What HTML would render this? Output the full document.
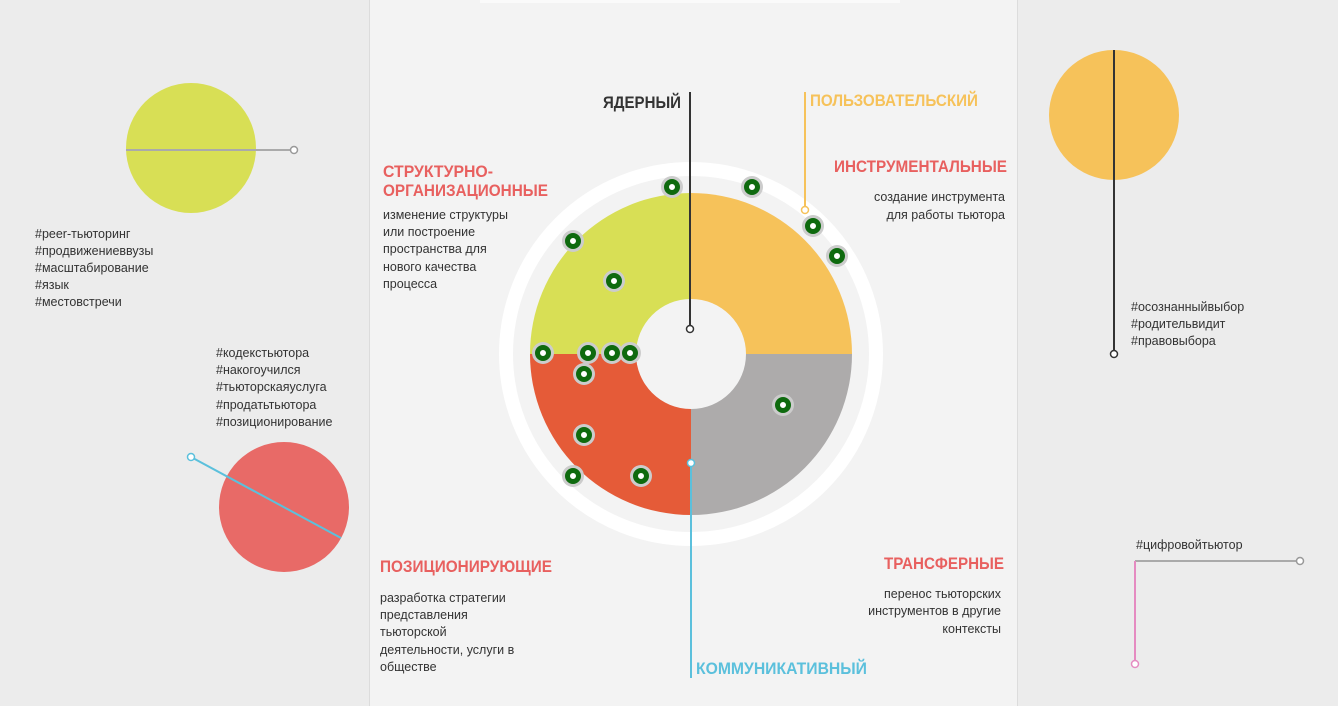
<!DOCTYPE html>
<html><head><meta charset="utf-8"><style>
html,body{margin:0;padding:0;width:1338px;height:706px;overflow:hidden;background:#ececec}
svg{display:block}
text{font-family:"Liberation Sans Narrow","Liberation Sans",sans-serif}
.h{font-weight:bold;font-size:17px}
.t{font-size:12.5px;fill:#333}
</style></head><body>
<svg width="1338" height="706" viewBox="0 0 1338 706">
<rect width="1338" height="706" fill="#ececec"/>
<rect x="370" y="0" width="648" height="706" fill="#f3f3f3"/>
<line x1="369.5" y1="0" x2="369.5" y2="706" stroke="#dcdcdc"/>
<line x1="1017.5" y1="0" x2="1017.5" y2="706" stroke="#dcdcdc"/>
<rect x="480" y="0" width="420" height="3" fill="#fafafa"/>

<!-- left panel -->
<circle cx="191" cy="148" r="65" fill="#d8df55"/>
<line x1="126" y1="150" x2="291" y2="150" stroke="#aaa" stroke-width="2"/>
<circle cx="294" cy="150" r="3.5" fill="#fff" stroke="#999" stroke-width="1.5"/>
<g class="t"><text x="35" y="238">#peer-тьюторинг</text><text x="35" y="255">#продвижениеввузы</text><text x="35" y="272">#масштабирование</text><text x="35" y="289">#язык</text><text x="35" y="306">#местовстречи</text></g>
<g class="t"><text x="216" y="357">#кодекстьютора</text><text x="216" y="374">#накогоучился</text><text x="216" y="391">#тьюторскаяуслуга</text><text x="216" y="409">#продатьтьютора</text><text x="216" y="426">#позиционирование</text></g>
<circle cx="284" cy="507" r="65" fill="#e86a67"/>
<line x1="191" y1="457" x2="341" y2="538" stroke="#5bc0dc" stroke-width="2"/>
<circle cx="191" cy="457" r="3.5" fill="#fff" stroke="#5bc0dc" stroke-width="1.5"/>

<!-- right panel -->
<circle cx="1114" cy="115" r="65" fill="#f6c25a"/>
<line x1="1114" y1="50" x2="1114" y2="352" stroke="#333" stroke-width="2"/>
<circle cx="1114" cy="354" r="3.5" fill="#fff" stroke="#333" stroke-width="1.5"/>
<g class="t"><text x="1131" y="311">#осознанныйвыбор</text><text x="1131" y="328">#родительвидит</text><text x="1131" y="345">#правовыбора</text></g>
<text class="t" x="1136" y="549">#цифровойтьютор</text>
<line x1="1135" y1="561" x2="1298" y2="561" stroke="#aaa" stroke-width="2"/>
<circle cx="1300" cy="561" r="3.5" fill="#fff" stroke="#999" stroke-width="1.5"/>
<line x1="1135" y1="561" x2="1135" y2="661" stroke="#e58bc1" stroke-width="2"/>
<circle cx="1135" cy="664" r="3.5" fill="#fff" stroke="#e58bc1" stroke-width="1.5"/>

<!-- donut -->
<circle cx="691" cy="354" r="185" fill="none" stroke="#fff" stroke-width="14"/>
<path d="M691 354 L691 193 A161 161 0 0 0 530 354 Z" fill="#d8df55"/>
<path d="M691 354 L691 193 A161 161 0 0 1 852 354 Z" fill="#f6c25a"/>
<path d="M691 354 L852 354 A161 161 0 0 1 691 515 Z" fill="#adabab"/>
<path d="M691 354 L691 515 A161 161 0 0 1 530 354 Z" fill="#e55b38"/>
<circle cx="691" cy="354" r="55" fill="#f3f3f3"/>

<g>
<circle cx="672" cy="187" r="11" fill="#ccc"/><circle cx="752" cy="187" r="11" fill="#ccc"/>
<circle cx="813" cy="226" r="11" fill="#ccc"/><circle cx="837" cy="256" r="11" fill="#ccc"/>
<circle cx="573" cy="241" r="11" fill="#ccc"/><circle cx="614" cy="281" r="11" fill="#ccc"/>
<circle cx="543" cy="353" r="11" fill="#ccc"/><circle cx="588" cy="353" r="11" fill="#ccc"/>
<circle cx="612" cy="353" r="11" fill="#ccc"/><circle cx="630" cy="353" r="11" fill="#ccc"/>
<circle cx="584" cy="374" r="11" fill="#ccc"/><circle cx="783" cy="405" r="11" fill="#ccc"/>
<circle cx="584" cy="435" r="11" fill="#ccc"/><circle cx="573" cy="476" r="11" fill="#ccc"/>
<circle cx="641" cy="476" r="11" fill="#ccc"/>
</g>
<g fill="#fff" stroke="#0e6a0e" stroke-width="5">
<circle cx="672" cy="187" r="5.5"/><circle cx="752" cy="187" r="5.5"/>
<circle cx="813" cy="226" r="5.5"/><circle cx="837" cy="256" r="5.5"/>
<circle cx="573" cy="241" r="5.5"/><circle cx="614" cy="281" r="5.5"/>
<circle cx="543" cy="353" r="5.5"/><circle cx="588" cy="353" r="5.5"/>
<circle cx="612" cy="353" r="5.5"/><circle cx="630" cy="353" r="5.5"/>
<circle cx="584" cy="374" r="5.5"/><circle cx="783" cy="405" r="5.5"/>
<circle cx="584" cy="435" r="5.5"/><circle cx="573" cy="476" r="5.5"/>
<circle cx="641" cy="476" r="5.5"/>
</g>

<line x1="690" y1="92" x2="690" y2="326" stroke="#333" stroke-width="2"/>
<circle cx="690" cy="329" r="3.5" fill="#fff" stroke="#333" stroke-width="1.5"/>
<line x1="805" y1="92" x2="805" y2="207" stroke="#f6c25a" stroke-width="2"/>
<circle cx="805" cy="210" r="3.5" fill="#fff" stroke="#f6c25a" stroke-width="1.5"/>
<line x1="691" y1="466" x2="691" y2="678" stroke="#5bc0dc" stroke-width="2"/>
<circle cx="691" cy="463" r="3.5" fill="#fff" stroke="#5bc0dc" stroke-width="1.5"/>

<text class="h" x="603" y="108" fill="#333" textLength="78" lengthAdjust="spacingAndGlyphs">ЯДЕРНЫЙ</text>
<text class="h" x="810" y="106" fill="#f6c25a" textLength="168" lengthAdjust="spacingAndGlyphs">ПОЛЬЗОВАТЕЛЬСКИЙ</text>
<text class="h" x="383" y="177" fill="#e8605f" textLength="110" lengthAdjust="spacingAndGlyphs">СТРУКТУРНО-</text>
<text class="h" x="383" y="196" fill="#e8605f" textLength="165" lengthAdjust="spacingAndGlyphs">ОРГАНИЗАЦИОННЫЕ</text>
<g class="t"><text x="383" y="219">изменение структуры</text><text x="383" y="236">или построение</text><text x="383" y="253">пространства для</text><text x="383" y="271">нового качества</text><text x="383" y="288">процесса</text></g>
<text class="h" x="834" y="172" fill="#e8605f" textLength="173" lengthAdjust="spacingAndGlyphs">ИНСТРУМЕНТАЛЬНЫЕ</text>
<g class="t" text-anchor="end"><text x="1005" y="201">создание инструмента</text><text x="1005" y="219">для работы тьютора</text></g>
<text class="h" x="380" y="572" fill="#e8605f" textLength="172" lengthAdjust="spacingAndGlyphs">ПОЗИЦИОНИРУЮЩИЕ</text>
<g class="t"><text x="380" y="602">разработка стратегии</text><text x="380" y="619">представления</text><text x="380" y="636">тьюторской</text><text x="380" y="654">деятельности, услуги в</text><text x="380" y="671">обществе</text></g>
<text class="h" x="1004" y="569" fill="#e8605f" text-anchor="end" textLength="120" lengthAdjust="spacingAndGlyphs">ТРАНСФЕРНЫЕ</text>
<g class="t" text-anchor="end"><text x="1001" y="598">перенос тьюторских</text><text x="1001" y="615">инструментов в другие</text><text x="1001" y="633">контексты</text></g>
<text class="h" x="696" y="674" fill="#5bc0dc" textLength="171" lengthAdjust="spacingAndGlyphs">КОММУНИКАТИВНЫЙ</text>
</svg>
</body></html>
